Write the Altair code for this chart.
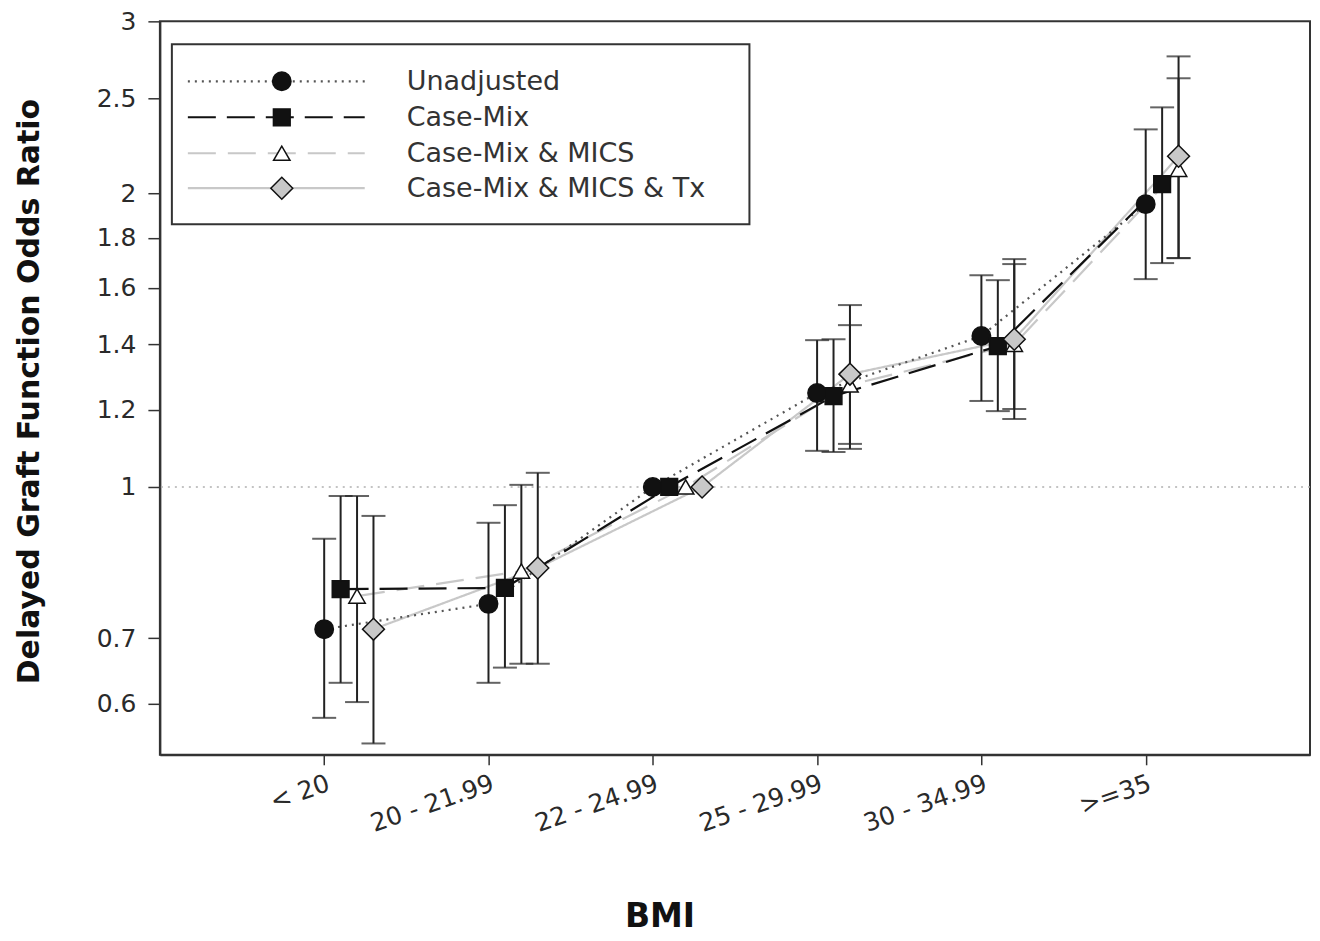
import altair as alt
import pandas as pd

categories = ["< 20", "20 - 21.99", "22 - 24.99", "25 - 29.99", "30 - 34.99", ">=35"]
series = ["Unadjusted", "Case-Mix", "Case-Mix & MICS", "Case-Mix & MICS & Tx"]

# x offset of each series within a BMI group (in category units)
x_offsets = {
    "Unadjusted": [0.0, 0.0, 0.0, 0.0, 0.0, 0.0],
    "Case-Mix": [0.1, 0.1, 0.1, 0.1, 0.1, 0.1],
    "Case-Mix & MICS": [0.2, 0.2, 0.2, 0.2, 0.2, 0.2],
    "Case-Mix & MICS & Tx": [0.3, 0.3, 0.3, 0.2, 0.2, 0.2],
}
odds = {
    "Unadjusted": [0.715, 0.759, 1.0, 1.248, 1.428, 1.949],
    "Case-Mix": [0.786, 0.788, 1.0, 1.239, 1.394, 2.043],
    "Case-Mix & MICS": [0.773, 0.820, 1.0, 1.272, 1.400, 2.116],
    "Case-Mix & MICS & Tx": [0.715, 0.826, 1.0, 1.305, 1.417, 2.182],
}
lower = {
    "Unadjusted": [0.580, 0.630, None, 1.089, 1.225, 1.633],
    "Case-Mix": [0.630, 0.653, None, 1.086, 1.196, 1.696],
    "Case-Mix & MICS": [0.602, 0.659, None, 1.107, 1.202, 1.716],
    "Case-Mix & MICS & Tx": [0.546, 0.659, None, 1.094, 1.174, 1.716],
}
upper = {
    "Unadjusted": [0.885, 0.919, None, 1.414, 1.648, 2.325],
    "Case-Mix": [0.979, 0.958, None, 1.417, 1.629, 2.449],
    "Case-Mix & MICS": [0.979, 1.005, None, 1.465, 1.692, 2.623],
    "Case-Mix & MICS & Tx": [0.934, 1.034, None, 1.536, 1.712, 2.762],
}
y_ticks = [0.6, 0.7, 1, 1.2, 1.4, 1.6, 1.8, 2, 2.5, 3]
x_title = "BMI"
y_title = "Delayed Graft Function Odds Ratio"

styles = {
    "Unadjusted": dict(line="#555555", dash=[2, 5], shape="circle", fill="#111111", size=340),
    "Case-Mix": dict(line="#111111", dash=[28, 11], shape="square", fill="#111111", size=280),
    "Case-Mix & MICS": dict(line="#c8c8c8", dash=[28, 12], shape="triangle-up", fill="#ffffff", size=270),
    "Case-Mix & MICS & Tx": dict(line="#c8c8c8", dash=[1, 0], shape="diamond", fill="#c8c8c8", size=480),
}

rows = []
for s in series:
    for i, c in enumerate(categories):
        rows.append(dict(series=s, cat=c, x=i + 1 + x_offsets[s][i],
                         odds=odds[s][i], lo=lower[s][i], hi=upper[s][i]))
df = pd.DataFrame(rows)

label_expr = "[" + ",".join("'" + c + "'" for c in categories) + "][datum.value - 1]"

LFONT = "DejaVu Sans"
xscale = alt.Scale(domain=[0, 7], nice=False, zero=False)
yscale = alt.Scale(type="log", domain=[0.5316, 3], nice=False)
x_axis = alt.Axis(values=[1, 2, 3, 4, 5, 6], labelExpr=label_expr, title=x_title)
y_axis = alt.Axis(values=y_ticks, format="~g", title=y_title)


def X(f="x"):
    return alt.X(f + ":Q", scale=xscale, axis=x_axis)


def Y(f="odds"):
    return alt.Y(f + ":Q", scale=yscale, axis=y_axis)


ref = alt.Chart(pd.DataFrame({"odds": [1]})).mark_rule(
    color="#b0b0b0", strokeDash=[2, 5], strokeWidth=1.5).encode(y=Y())

layers = [ref]
# connecting lines
for s in ["Case-Mix & MICS & Tx", "Case-Mix & MICS", "Unadjusted", "Case-Mix"]:
    st = styles[s]
    layers.append(alt.Chart(df[df.series == s]).mark_line(
        color=st["line"], strokeDash=st["dash"], strokeWidth=2.2).encode(x=X(), y=Y(), order="x:Q"))
# error bars
eb = df.dropna(subset=["lo", "hi"])
layers.append(alt.Chart(eb).mark_rule(color="#222222", strokeWidth=2).encode(
    x=X(), y=Y("lo"), y2="hi:Q"))
for col in ["lo", "hi"]:
    layers.append(alt.Chart(eb).mark_tick(color="#222222", orient="horizontal", size=24,
                                          thickness=2).encode(x=X(), y=Y(col)))
# markers
for s in series:
    st = styles[s]
    layers.append(alt.Chart(df[df.series == s]).mark_point(
        shape=st["shape"], filled=True, fill=st["fill"], stroke="#111111", strokeWidth=1.5,
        size=st["size"], opacity=1).encode(x=X(), y=Y()))

# legend (decoration, pixel-positioned)
one = pd.DataFrame({"a": [0]})
layers.append(alt.Chart(one).mark_rect(fill="white", stroke="#333333", strokeWidth=2).encode(
    x=alt.value(12), x2=alt.value(590), y=alt.value(23), y2=alt.value(203)))
leg_y = [60, 96, 132, 167]
for s, yy in zip(series, leg_y):
    st = styles[s]
    layers.append(alt.Chart(one).mark_rule(color=st["line"], strokeDash=st["dash"], strokeWidth=2.2).encode(
        x=alt.value(28), x2=alt.value(205), y=alt.value(yy)))
    layers.append(alt.Chart(one).mark_point(
        shape=st["shape"], filled=True, fill=st["fill"], stroke="#111111", strokeWidth=1.5,
        size=st["size"], opacity=1).encode(x=alt.value(122), y=alt.value(yy)))
    layers.append(alt.Chart(pd.DataFrame({"t": [s]})).mark_text(
        align="left", baseline="middle", fontSize=27, font=LFONT, color="#333333").encode(
        x=alt.value(247), y=alt.value(yy + 1), text="t:N"))

chart = alt.layer(*layers).properties(
    width=1151, height=734, autosize="none",
    padding={"left": 152, "top": 13, "right": 2, "bottom": 186},
).configure_view(stroke="#333333", strokeWidth=2).configure_axis(
    labelFont=LFONT, labelColor="#2a2a2a", labelFontSize=25,
    titleFont="DejaVu Sans", titleColor="#111111", titleFontWeight="bold",
    domainColor="#333333", domainWidth=2, tickColor="#333333", tickWidth=1.5, grid=False,
).configure_axisX(
    labelAngle=-19, labelAlign="right", labelBaseline="top", labelPadding=6, tickSize=10,
    titleX=500, titleY=172, titleAlign="center", titleBaseline="alphabetic", titleFontSize=33,
).configure_axisY(
    tickSize=12, labelPadding=12, titleFontSize=30, titleX=-130, titleY=370,
    titleAlign="center", titleBaseline="middle", titleAngle=-90,
)

chart.save("out.html", embed_options={"renderer": "svg", "actions": False})
